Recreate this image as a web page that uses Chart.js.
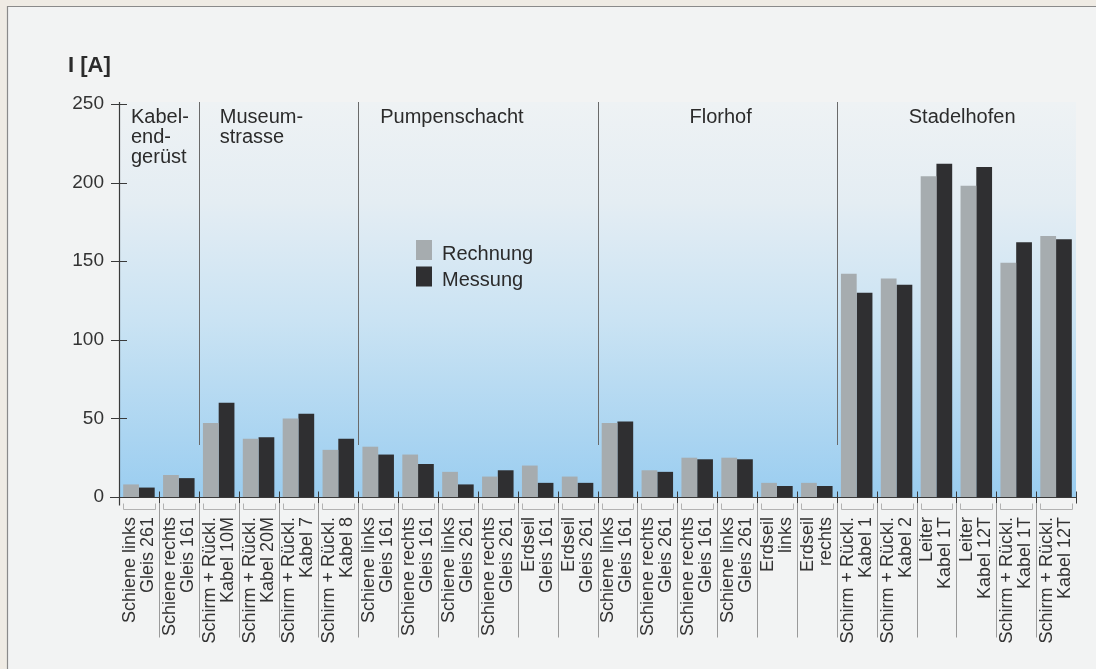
<!DOCTYPE html>
<html><head><meta charset="utf-8">
<script src="https://cdn.jsdelivr.net/npm/chart.js@4"></script>
<style>html,body{margin:0;padding:0;background:#f2f3f3;overflow:hidden}#wrap{width:1096px;height:669px;position:relative}</style>
</head><body><div id="wrap"><canvas id="c" width="1096" height="669"></canvas></div>
<script>
// ---- data ----
const categories = [
  ['Schiene links','Gleis 261'],
  ['Schiene rechts','Gleis 161'],
  ['Schirm + Rückl.','Kabel 10M'],
  ['Schirm + Rückl.','Kabel 20M'],
  ['Schirm + Rückl.','Kabel 7'],
  ['Schirm + Rückl.','Kabel 8'],
  ['Schiene links','Gleis 161'],
  ['Schiene rechts','Gleis 161'],
  ['Schiene links','Gleis 261'],
  ['Schiene rechts','Gleis 261'],
  ['Erdseil','Gleis 161'],
  ['Erdseil','Gleis 261'],
  ['Schiene links','Gleis 161'],
  ['Schiene rechts','Gleis 261'],
  ['Schiene rechts','Gleis 161'],
  ['Schiene links','Gleis 261'],
  ['Erdseil','links'],
  ['Erdseil','rechts'],
  ['Schirm + Rückl.','Kabel 1'],
  ['Schirm + Rückl.','Kabel 2'],
  ['Leiter','Kabel 1T'],
  ['Leiter','Kabel 12T'],
  ['Schirm + Rückl.','Kabel 1T'],
  ['Schirm + Rückl.','Kabel 12T']
];
const rechnung = [8,14,47,37,50,30,32,27,16,13,20,13,47,17,25,25,9,9,142,139,204,198,149,166];
const messung  = [6,12,60,38,53,37,27,21,8,17,9,9,48,16,24,24,7,7,130,135,212,210,162,164];
const seriesNames = ['Rechnung','Messung'];
const groupNames = [['Kabel-','end-','gerüst'],['Museum-','strasse'],['Pumpenschacht'],['Florhof'],['Stadelhofen']];
const groupStarts = [0,2,6,12,18];
const yTicks = [0,50,100,150,200,250];
const yTitle = 'I [A]';

// ---- layout / style ----
const FONT = '"Liberation Sans", Arial, Helvetica, sans-serif';
const TXT = '#2b2b2b';
const headerOffsets = [12, 21, 22, 92, 72];
const LIGHT = '#a6acaf', DARK = '#2f2f31';

function boundary(x, k, n){
  if (k <= 0) return x.left;
  if (k >= n) return x.right;
  return (x.getPixelForValue(k-1) + x.getPixelForValue(k)) / 2;
}

const deco = {
  id: 'deco',
  beforeDraw(chart){
    const {ctx, chartArea:a} = chart;
    const W = chart.width, H = chart.height;
    ctx.save();
    ctx.fillStyle = '#f2f3f3'; ctx.fillRect(0,0,W,H);
    ctx.fillStyle = '#efebe4'; ctx.fillRect(0,0,W,6); ctx.fillRect(0,0,7,H);
    ctx.strokeStyle = '#8a8a8a'; ctx.lineWidth = 1.2;
    ctx.beginPath(); ctx.moveTo(7.5,H); ctx.lineTo(7.5,6.5); ctx.lineTo(W,6.5); ctx.stroke();
    const g = ctx.createLinearGradient(0, a.top, 0, a.bottom);
    g.addColorStop(0, '#eef2f4');
    g.addColorStop(0.25, '#e4edf3');
    g.addColorStop(0.55, '#cae3f3');
    g.addColorStop(1, '#9acdf0');
    ctx.fillStyle = g;
    ctx.fillRect(a.left, a.top - 2, a.right - a.left, a.bottom - a.top + 2);
    ctx.restore();
  },
  afterDraw(chart){
    const {ctx, chartArea:a, scales:{x, y}} = chart;
    const n = categories.length;
    const y0 = Math.round(y.getPixelForValue(0)) + 0.5;
    ctx.save();
    // axes
    ctx.strokeStyle = '#3a3a3a'; ctx.lineWidth = 1.2;
    ctx.beginPath();
    ctx.moveTo(a.left + 0.5, a.top - 2); ctx.lineTo(a.left + 0.5, y0 + 8);
    ctx.moveTo(a.left - 9, y0); ctx.lineTo(a.right, y0);
    ctx.stroke();
    // y ticks crossing the axis
    ctx.beginPath();
    yTicks.forEach(v => { const py = Math.round(y.getPixelForValue(v)) + 0.5; ctx.moveTo(a.left - 8, py); ctx.lineTo(a.left + 8, py); });
    ctx.stroke();
    // x boundary ticks
    ctx.lineWidth = 1;
    ctx.beginPath();
    for (let k = 1; k <= n; k++){ const px = Math.round(boundary(x,k,n)) + 0.5; ctx.moveTo(px, y0 - 6); ctx.lineTo(px, y0 + 6); }
    ctx.stroke();
    // brackets under each category
    ctx.strokeStyle = '#b2b2b2';
    ctx.beginPath();
    for (let i = 0; i < n; i++){
      const l = Math.round(boundary(x,i,n)) + 4.5, r = Math.round(boundary(x,i+1,n)) - 3.5;
      ctx.moveTo(l, y0 + 6); ctx.lineTo(l, y0 + 12); ctx.lineTo(r, y0 + 12); ctx.lineTo(r, y0 + 6);
    }
    ctx.stroke();
    // long separators between categories
    ctx.strokeStyle = '#9a9a9a';
    ctx.beginPath();
    for (let k = 1; k < n; k++){ const px = Math.round(boundary(x,k,n)) + 0.5; ctx.moveTo(px, y0 + 6); ctx.lineTo(px, y0 + 140); }
    ctx.stroke();
    // group separators
    ctx.strokeStyle = '#6a6a6a';
    ctx.beginPath();
    groupStarts.forEach((s, gi) => { if (gi === 0) return; const px = Math.round(boundary(x,s,n)) + 0.5; ctx.moveTo(px, a.top - 2); ctx.lineTo(px, a.top + 341); });
    ctx.stroke();
    // group headers
    ctx.fillStyle = TXT; ctx.font = '20px ' + FONT; ctx.textAlign = 'left'; ctx.textBaseline = 'alphabetic';
    groupNames.forEach((lines, gi) => {
      const px = boundary(x, groupStarts[gi], n) + headerOffsets[gi];
      lines.forEach((t, li) => ctx.fillText(t, px, a.top + 19 + li * 20));
    });
    // y title
    ctx.font = 'bold 22px ' + FONT;
    ctx.fillText(yTitle, 68, 72);
    // legend
    ctx.font = '20px ' + FONT;
    chart.data.datasets.forEach((ds, i) => {
      const top = 240 + i * 26.5;
      ctx.fillStyle = ds.backgroundColor; ctx.fillRect(416, top, 16, 20);
      ctx.fillStyle = TXT; ctx.fillText(ds.label, 442, top + 19.5);
    });
    ctx.restore();
  }
};

new Chart(document.getElementById('c'), {
  type: 'bar',
  data: {
    labels: categories,
    datasets: [
      { label: seriesNames[0], data: rechnung, backgroundColor: LIGHT },
      { label: seriesNames[1], data: messung, backgroundColor: DARK }
    ]
  },
  options: {
    responsive: false,
    animation: false,
    layout: { padding: { top: 104, right: 20, bottom: 0, left: 0 } },
    plugins: { legend: { display: false }, tooltip: { enabled: false } },
    datasets: { bar: { categoryPercentage: 0.79, barPercentage: 1.0 } },
    scales: {
      x: {
        grid: { display: false, drawTicks: false },
        border: { display: false },
        ticks: {
          autoSkip: false, minRotation: 90, maxRotation: 90, padding: 20, labelOffset: -9,
          color: '#333', font: { family: FONT, size: 18, lineHeight: 1.0 }
        },
        afterFit(s){ s.height = 172; s.paddingLeft = 0; s.paddingRight = 0; }
      },
      y: {
        min: 0, max: 250,
        grid: { display: false, drawTicks: false },
        border: { display: false },
        afterBuildTicks(s){ s.ticks = yTicks.map(v => ({ value: v })); },
        ticks: { padding: 15, color: '#333', font: { family: FONT, size: 19 } },
        afterFit(s){ s.width = 119; }
      }
    }
  },
  plugins: [deco]
});
</script></body></html>
